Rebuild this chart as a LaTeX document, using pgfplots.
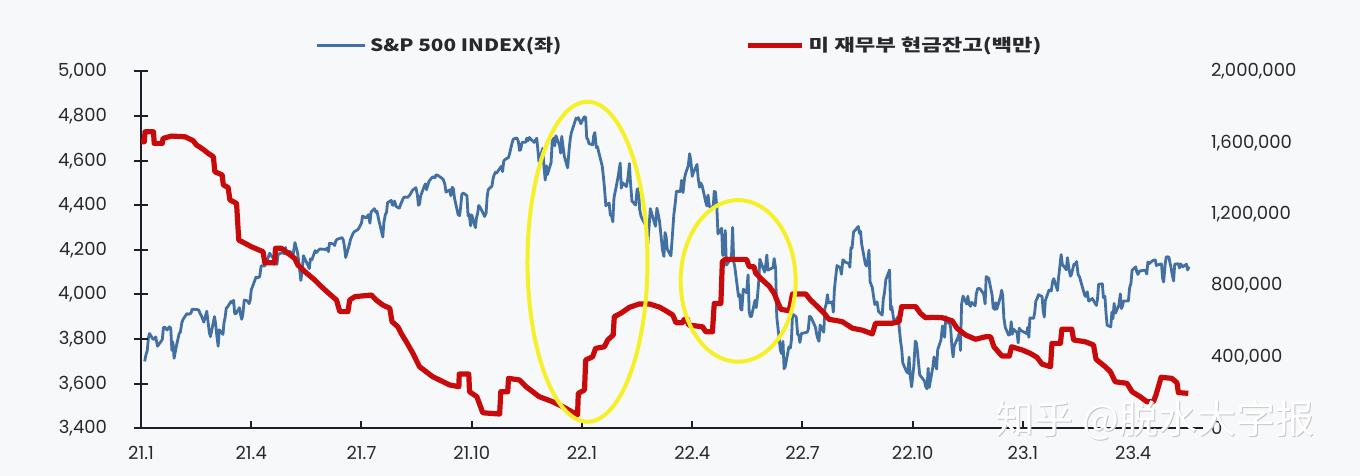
\documentclass[border=0pt]{standalone}
\usepackage{pgfplots}
\pgfplotsset{compat=1.18}
\usepackage{fontspec}
\setmainfont{Poppins}
\newfontfamily\krfont[FakeStretch=1.22]{Noto Sans CJK KR}
\newfontfamily\krwide[FakeStretch=1.31]{Noto Sans CJK KR}
\newfontfamily\zhfont{Noto Sans CJK SC}
\definecolor{spblue}{RGB}{66,112,162}
\definecolor{tgared}{RGB}{200,10,10}
\definecolor{bg}{RGB}{247,248,250}
\definecolor{ell}{RGB}{246,240,40}
\definecolor{axisc}{RGB}{30,30,40}
\definecolor{labc}{RGB}{40,40,45}
\newcommand\ticks{\fontsize{9}{10}\selectfont}
\newcommand\legfont{\krfont\bfseries\fontsize{8.5}{10}\selectfont}
\newcommand\wm{\zhfont\fontsize{19.5}{21}\selectfont}
\pgfplotsset{
  blueleg/.style={legend image code/.code={\draw[##1] (0pt,0pt) -- (24pt,0pt);}},
  redleg/.style={legend image code/.code={\draw[##1] (0pt,0pt) -- (27pt,0pt);}},
  base/.style={at={(0pt,0pt)}, anchor=south west,
    scale only axis, width=531pt, height=178.4pt, xmin=0, xmax=28.9,
    axis line style={axisc, line width=0.9pt},
    tick label style={font=\ticks, text=labc},
    /pgf/number format/1000 sep={,},
    /pgf/number format/assume math mode=true},
}
\begin{document}
\begin{tikzpicture}
\path[use as bounding box, fill=bg] (-70.5pt,-23.85pt) rectangle (609.5pt,214.15pt);
\begin{axis}[base, ymin=0, ymax=1,
  axis x line*=bottom, axis y line=none,
  tick align=inside, major tick length=3.5pt,
  xtick={0,3,...,27},
  xticklabels={21.1,21.4,21.7,21.10,22.1,22.4,22.7,22.10,23.1,23.4},
  xticklabel style={yshift=-5.5pt},
]
\end{axis}
\begin{axis}[base,
  ymin=3400, ymax=5000,
  axis x line*=bottom, axis y line*=left,
  xtick=\empty,
  tick align=center, major tick length=7pt,
  ytick={3400,3600,3800,4000,4200,4400,4600,4800,5000},
  yticklabel style={xshift=-10pt},
  legend columns=2,
  legend cell align=left,
  legend style={at={(0.158,1)}, anchor=west, yshift=13pt, draw=none, fill=none,
    font=\legfont, text=labc, /tikz/every even column/.append style={column sep=90pt}},
]
\addplot[spblue, line width=1.4pt, line join=round, blueleg] coordinates {
(0.10,3700)(0.13,3726)(0.17,3748)(0.20,3803)(0.23,3825)(0.33,3799)(0.37,3801)(0.40,3810)(0.45,3768)(0.58,3798)(0.61,3852)(0.65,3853)(0.71,3841)(0.77,3855)(0.81,3849)(0.84,3750)(0.87,3787)(0.90,3714)(0.97,3774)(1.04,3826)(1.07,3830)(1.11,3872)(1.14,3887)(1.25,3915)(1.29,3911)(1.36,3916)(1.39,3934)(1.54,3932)(1.57,3931)(1.61,3914)(1.64,3906)(1.71,3876)(1.79,3925)(1.86,3829)(1.89,3811)(2.00,3901)(2.03,3870)(2.06,3820)(2.10,3768)(2.13,3842)(2.23,3821)(2.26,3875)(2.29,3898)(2.32,3939)(2.35,3943)(2.45,3969)(2.48,3962)(2.52,3974)(2.55,3915)(2.58,3913)(2.68,3941)(2.71,3910)(2.74,3889)(2.77,3909)(2.81,3975)(2.90,3971)(2.94,3959)(2.97,3973)(3.00,4020)(3.13,4078)(3.17,4074)(3.23,4080)(3.27,4129)(3.37,4128)(3.40,4141)(3.47,4170)(3.50,4185)(3.60,4163)(3.63,4135)(3.67,4174)(3.70,4135)(3.73,4180)(3.83,4187)(3.87,4186)(3.90,4183)(3.93,4211)(3.97,4181)(4.00,4193)(4.07,4192)(4.13,4168)(4.16,4201)(4.19,4233)(4.26,4188)(4.29,4152)(4.35,4063)(4.39,4113)(4.42,4174)(4.55,4128)(4.58,4116)(4.61,4160)(4.65,4156)(4.74,4197)(4.77,4188)(4.81,4195)(4.84,4200)(4.87,4204)(5.03,4202)(5.07,4208)(5.10,4192)(5.13,4230)(5.23,4227)(5.27,4220)(5.30,4239)(5.33,4247)(5.47,4255)(5.50,4247)(5.53,4223)(5.57,4166)(5.67,4224)(5.70,4246)(5.77,4274)(5.80,4281)(5.90,4291)(5.93,4298)(6.00,4320)(6.03,4352)(6.13,4343)(6.19,4358)(6.23,4320)(6.26,4370)(6.35,4385)(6.39,4369)(6.42,4374)(6.48,4327)(6.58,4258)(6.61,4323)(6.65,4359)(6.68,4367)(6.71,4412)(6.81,4422)(6.84,4401)(6.87,4400)(6.90,4419)(6.94,4395)(7.03,4387)(7.06,4402)(7.13,4429)(7.16,4437)(7.26,4436)(7.32,4447)(7.39,4468)(7.48,4479)(7.52,4448)(7.55,4400)(7.58,4406)(7.61,4442)(7.71,4486)(7.74,4496)(7.77,4470)(7.84,4509)(7.94,4528)(8.00,4523)(8.03,4537)(8.07,4535)(8.20,4520)(8.23,4514)(8.27,4493)(8.30,4459)(8.40,4469)(8.43,4443)(8.47,4481)(8.50,4474)(8.53,4433)(8.63,4358)(8.67,4354)(8.70,4395)(8.73,4449)(8.77,4455)(8.87,4443)(8.90,4353)(8.93,4360)(8.97,4308)(9.00,4357)(9.10,4300)(9.13,4345)(9.16,4363)(9.19,4399)(9.23,4391)(9.32,4361)(9.35,4350)(9.39,4364)(9.42,4438)(9.45,4471)(9.55,4486)(9.58,4519)(9.61,4536)(9.65,4549)(9.68,4545)(9.77,4567)(9.81,4575)(9.84,4551)(9.87,4597)(9.90,4605)(10.00,4614)(10.03,4631)(10.07,4660)(10.10,4680)(10.13,4697)(10.23,4702)(10.27,4685)(10.30,4646)(10.33,4649)(10.37,4682)(10.47,4683)(10.50,4701)(10.53,4689)(10.57,4704)(10.60,4698)(10.70,4682)(10.73,4691)(10.77,4701)(10.83,4595)(10.93,4655)(10.97,4567)(11.00,4513)(11.03,4577)(11.06,4538)(11.16,4592)(11.19,4687)(11.23,4701)(11.26,4667)(11.29,4712)(11.39,4669)(11.42,4634)(11.45,4709)(11.48,4669)(11.52,4620)(11.61,4568)(11.65,4649)(11.68,4697)(11.71,4725)(11.84,4791)(11.87,4786)(11.90,4793)(11.94,4778)(11.97,4766)
(12.06,4797)(12.10,4794)(12.13,4701)(12.16,4696)(12.19,4677)(12.29,4671)(12.32,4713)(12.35,4726)(12.39,4659)(12.42,4663)(12.55,4577)(12.58,4533)(12.61,4483)(12.65,4398)(12.74,4410)(12.77,4357)(12.81,4350)(12.84,4326)(12.87,4432)(12.97,4516)(13.00,4546)(13.04,4589)(13.07,4477)(13.11,4501)(13.21,4484)(13.25,4521)(13.29,4587)(13.32,4504)(13.36,4419)(13.46,4401)(13.50,4471)(13.54,4475)(13.57,4380)(13.61,4349)(13.75,4305)(13.79,4225)(13.82,4289)(13.86,4385)(14.00,4306)(14.04,4387)(14.07,4363)(14.11,4329)(14.19,4201)(14.23,4171)(14.26,4278)(14.29,4260)(14.32,4204)(14.42,4173)(14.46,4263)(14.50,4358)(14.54,4412)(14.57,4463)(14.68,4462)(14.71,4512)(14.75,4457)(14.79,4520)(14.82,4543)(14.89,4576)(14.93,4631)(14.96,4602)(15.00,4530)(15.03,4546)(15.13,4583)(15.16,4525)(15.20,4481)(15.23,4500)(15.27,4488)(15.37,4413)(15.40,4397)(15.43,4446)(15.47,4393)(15.57,4391)(15.60,4462)(15.63,4460)(15.67,4394)(15.70,4272)(15.80,4297)(15.83,4175)(15.87,4184)(15.90,4287)(15.93,4132)(16.03,4155)(16.07,4175)(16.10,4301)(16.13,4147)(16.16,4123)(16.26,3991)(16.29,4001)(16.32,3935)(16.35,3930)(16.39,4024)(16.48,4008)(16.52,4088)(16.55,3923)(16.58,3901)(16.61,3901)(16.71,3974)(16.74,3941)(16.77,3979)(16.81,4058)(16.84,4158)(16.97,4101)(17.00,4132)(17.03,4177)(17.06,4109)(17.20,4121)(17.23,4161)(17.27,4116)(17.30,3901)(17.40,3750)(17.43,3735)(17.47,3790)(17.50,3667)(17.53,3675)(17.63,3765)(17.67,3760)(17.70,3796)(17.73,3912)(17.83,3900)(17.87,3821)(17.90,3818)(17.93,3785)(17.97,3825)(18.13,3831)(18.16,3845)(18.19,3902)(18.23,3899)(18.35,3855)(18.39,3819)(18.42,3801)(18.45,3790)(18.48,3863)(18.58,3831)(18.61,3937)(18.65,3960)(18.68,3999)(18.71,3962)(18.81,3967)(18.84,3921)(18.87,4024)(18.90,4072)(18.94,4130)(19.03,4119)(19.06,4091)(19.10,4155)(19.13,4152)(19.16,4145)(19.26,4140)(19.29,4122)(19.32,4210)(19.35,4208)(19.39,4280)(19.48,4297)(19.52,4305)(19.55,4275)(19.58,4284)(19.61,4228)(19.71,4138)(19.74,4128)(19.77,4141)(19.81,4199)(19.84,4058)(19.90,4031)(19.94,3986)(19.97,3955)(20.03,3967)(20.07,3924)(20.17,3908)(20.20,3980)(20.23,4006)(20.27,4067)(20.37,4110)(20.40,3932)(20.43,3946)(20.47,3901)(20.50,3873)(20.60,3900)(20.63,3856)(20.67,3790)(20.70,3757)(20.73,3693)(20.83,3655)(20.87,3647)(20.90,3719)(20.93,3640)(20.97,3586)(21.03,3678)(21.07,3791)(21.10,3783)(21.13,3744)(21.19,3640)(21.32,3612)(21.35,3589)(21.39,3577)(21.42,3669)(21.45,3583)(21.55,3677)(21.58,3720)(21.61,3695)(21.65,3666)(21.68,3752)(21.77,3797)(21.81,3859)(21.84,3830)(21.87,3808)(21.90,3901)(21.97,3872)(22.00,3871)(22.03,3856)(22.07,3760)(22.10,3720)(22.13,3770)(22.23,3807)(22.27,3828)(22.30,3749)(22.33,3956)(22.37,3993)(22.47,3957)(22.50,3992)(22.53,3959)(22.57,3947)(22.60,3965)(22.70,3950)(22.73,4003)(22.77,4027)(22.83,4026)(22.93,4003)(22.97,3958)(23.00,4080)(23.03,4077)(23.07,4072)(23.16,3998)(23.19,3941)(23.23,3933)(23.26,3963)(23.29,3934)(23.39,3991)(23.42,4019)(23.45,3995)(23.48,3896)(23.52,3852)(23.61,3818)(23.65,3821)(23.68,3878)(23.71,3822)(23.74,3845)(23.84,3829)(23.87,3783)(23.90,3849)(23.94,3839)
(24.10,3825)(24.13,3853)(24.16,3808)(24.19,3895)(24.29,3893)(24.32,3919)(24.35,3970)(24.39,3983)(24.42,3999)(24.52,3991)(24.55,3929)(24.58,3899)(24.61,3973)(24.71,4020)(24.74,4017)(24.77,4016)(24.81,4060)(24.84,4071)(24.94,4018)(24.97,4077)(25.00,4119)(25.04,4179)(25.07,4136)(25.18,4111)(25.21,4165)(25.25,4118)(25.29,4082)(25.32,4090)(25.39,4137)(25.43,4136)(25.46,4148)(25.50,4090)(25.54,4079)(25.68,3997)(25.71,3991)(25.75,4012)(25.79,3970)(25.89,3982)(25.93,3970)(26.00,3951)(26.03,3982)(26.06,4046)(26.16,4048)(26.19,3986)(26.23,3992)(26.26,3919)(26.29,3862)(26.39,3855)(26.42,3920)(26.45,3892)(26.48,3960)(26.52,3917)(26.61,3952)(26.65,4003)(26.68,3937)(26.71,3949)(26.74,3971)(26.87,3971)(26.90,4028)(26.94,4051)(26.97,4109)(27.07,4124)(27.10,4100)(27.13,4090)(27.17,4105)(27.30,4109)(27.33,4108)(27.37,4092)(27.40,4146)(27.43,4138)(27.53,4152)(27.57,4154)(27.60,4155)(27.63,4130)(27.67,4133)(27.77,4137)(27.80,4072)(27.83,4056)(27.87,4136)(27.90,4169)(27.97,4168)(28.03,4120)(28.06,4091)(28.10,4061)(28.13,4136)(28.23,4138)(28.26,4119)(28.29,4137)(28.32,4131)(28.35,4124)(28.45,4136)(28.48,4110)(28.52,4125)
};
\addlegendentry{S\&P 500 INDEX(좌)}
\addlegendimage{tgared, line width=2.6pt, redleg}
\addlegendentry{\krwide 미 재무부 현금잔고(백만)}
\coordinate (e1) at (axis cs:12.15,4147);
\coordinate (e2) at (axis cs:16.25,4061);
\end{axis}
\begin{axis}[base,
  ymin=0, ymax=2000000,
  axis x line=none, axis y line*=right,
  y axis line style={draw=none},
  ytick={0,400000,800000,1200000,1600000,2000000},
  major tick length=0pt,
  scaled y ticks=false,
  yticklabel style={xshift=0.5pt, /pgf/number format/fixed},
]
\addplot[tgared, line width=2.6pt, line join=round] coordinates {
(0,1606000)(0.09,1606000)(0.11,1662000)(0.34,1662000)(0.36,1597000)(0.58,1597000)(0.60,1625000)(0.83,1638000)(1.20,1634000)(1.42,1612000)(1.51,1588000)(1.69,1564000)(1.83,1541000)(1.97,1522000)(2.01,1438000)(2.21,1420000)(2.24,1364000)(2.37,1350000)(2.42,1280000)(2.60,1261000)(2.66,1055000)(2.83,1037000)(3.00,1018000)(3.32,990000)(3.37,928000)(3.64,928000)(3.66,1009000)(3.82,1009000)(4.00,981000)(4.18,953000)(4.27,915000)(4.46,878000)(4.73,831000)(4.91,794000)(5.09,760000)(5.32,719000)(5.41,654000)(5.63,654000)(5.68,719000)(5.82,738000)(6.27,747000)(6.40,719000)(6.58,691000)(6.77,673000)(6.83,598000)(6.99,569000)(7.08,532000)(7.22,485000)(7.40,420000)(7.58,345000)(7.94,289000)(8.40,243000)(8.65,233000)(8.66,304000)(8.92,304000)(8.94,205000)(9.14,177000)(9.30,87000)(9.76,80000)(9.79,205000)(9.98,205000)(10.00,280000)(10.30,271000)(10.48,233000)(10.84,177000)(11.20,149000)(11.48,121000)(11.88,75000)(11.90,196000)(12.07,215000)(12.10,383000)(12.29,401000)(12.37,448000)(12.61,457000)(12.70,495000)(12.85,523000)(12.88,626000)(13.06,645000)(13.29,678000)(13.56,697000)(13.83,697000)(14.10,680000)(14.25,663000)(14.47,635000)(14.56,592000)(14.74,592000)(14.78,611000)(14.87,611000)(14.90,579000)(15.28,569000)(15.37,541000)(15.55,541000)(15.60,700000)(15.78,700000)(15.82,934000)(15.90,947000)(16.48,947000)(16.55,906000)(16.68,906000)(16.73,869000)(16.91,831000)(17.09,798000)(17.23,757000)(17.32,710000)(17.41,667000)(17.64,659000)(17.73,753000)(18.09,753000)(18.22,719000)(18.41,682000)(18.59,645000)(18.72,611000)(19.08,598000)(19.36,561000)(19.63,550000)(19.90,529000)(19.99,589000)(20.44,589000)(20.63,598000)(20.70,682000)(21.08,682000)(21.21,645000)(21.35,620000)(21.53,622000)(21.80,620000)(22.07,603000)(22.21,560000)(22.44,523000)(22.71,499000)(22.98,513000)(23.12,513000)(23.21,457000)(23.43,405000)(23.63,405000)(23.69,457000)(23.98,439000)(24.20,420000)(24.38,398000)(24.52,360000)(24.75,345000)(24.79,476000)(25.02,476000)(25.06,555000)(25.33,555000)(25.38,495000)(25.70,485000)(25.92,467000)(25.99,387000)(26.24,345000)(26.38,317000)(26.51,261000)(26.83,252000)(26.97,205000)(27.19,177000)(27.37,149000)(27.55,149000)(27.62,187000)(27.76,286000)(28.05,280000)(28.19,256000)(28.23,200000)(28.50,196000)
};
\end{axis}
\foreach \i in {0,...,8}
  \draw[axisc, line width=1pt] (-3.5pt,\i*22.3pt) -- (3.5pt,\i*22.3pt);
\foreach \m in {3,6,...,27}
  \draw[axisc, line width=1pt] (\m*18.3737pt,0pt) -- (\m*18.3737pt,3.5pt);
\draw[ell, line width=2pt] (e1) ellipse [x radius=30pt, y radius=80pt];
\draw[ell, line width=2pt] (e2) ellipse [x radius=28.75pt, y radius=40.4pt];
\node[anchor=west, font=\wm, text=gray!45, inner sep=0pt] at (427.6pt,3.5pt) {知乎 @脱水大字报};
\node[anchor=west, font=\wm, text=white, inner sep=0pt] at (427pt,4.15pt) {知乎 @脱水大字报};
\end{tikzpicture}
\end{document}
